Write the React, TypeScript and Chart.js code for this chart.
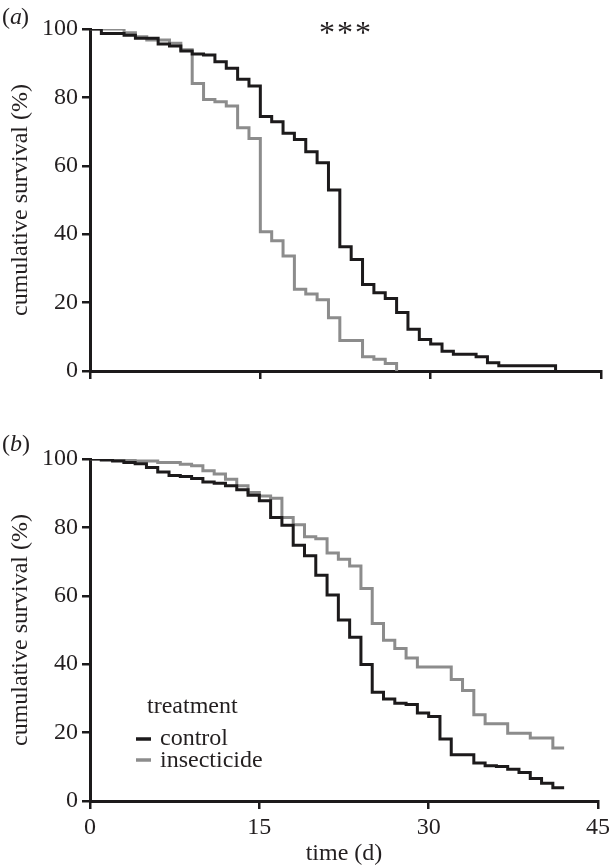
import React, { useEffect, useRef } from 'react';
import { Chart, registerables } from 'chart.js';

Chart.register(...registerables);

const FONT = '"Liberation Serif", "Times New Roman", Times, serif';
const INK = '#231f20';
const BLACK_LINE = '#1c1a1b';
const GREY_LINE = '#8c8c8c';

// x axis (time, days) and y axis (cumulative survival, %)
const xTicks = [0, 15, 30, 45];
const yTicks = [0, 20, 40, 60, 80, 100];

// Panel (a)
const aControlDays = [0, 1, 3, 4, 6, 7, 8, 9, 10, 11, 12, 13, 14, 15, 16, 17, 18, 19, 20, 21, 22, 23, 24, 25, 26, 27, 28, 29, 30, 31, 32, 34, 35, 36, 41];
const aControlSurv = [100, 98.7, 98.2, 97.3, 95.6, 95.0, 93.6, 92.7, 92.4, 90.4, 88.5, 85.3, 83.3, 74.4, 72.9, 69.5, 67.7, 64.1, 60.9, 52.9, 36.3, 32.6, 25.3, 22.9, 21.2, 17.1, 12.2, 9.2, 7.9, 5.8, 4.9, 4.2, 2.4, 1.5, 0];
const aInsectDays = [0, 3, 4, 5, 7, 8, 9, 10, 11, 12, 13, 14, 15, 16, 17, 18, 19, 20, 21, 22, 24, 25, 26, 27];
const aInsectSurv = [100, 98.9, 97.7, 96.8, 95.8, 93.9, 84.1, 79.4, 78.7, 77.5, 71.1, 68.0, 40.7, 38.1, 33.6, 23.9, 22.5, 20.8, 15.6, 8.9, 4.2, 3.4, 2.2, 0];

// Panel (b)
const bControlDays = [0, 1, 2, 3, 4, 5, 6, 7, 8, 9, 10, 11, 12, 13, 14, 15, 16, 17, 18, 19, 20, 21, 22, 23, 24, 25, 26, 27, 28, 29, 30, 31, 32, 34, 35, 36, 37, 38, 39, 40, 41, 42];
const bControlSurv = [100, 99.7, 99.4, 99.0, 98.6, 97.5, 96.2, 95.2, 94.9, 94.3, 93.3, 92.9, 92.2, 91.0, 89.4, 87.8, 82.9, 80.6, 74.8, 71.7, 66.0, 60.2, 52.9, 47.9, 39.9, 31.8, 29.8, 28.6, 28.2, 25.7, 24.7, 18.1, 13.5, 11.1, 10.3, 10.1, 9.3, 8.3, 6.6, 5.2, 3.9, 3.9];
const bInsectDays = [0, 2, 4, 6, 8, 9, 10, 11, 12, 13, 14, 15, 16, 17, 18, 19, 20, 21, 22, 23, 24, 25, 26, 27, 28, 29, 32, 33, 34, 35, 37, 39, 41, 42];
const bInsectSurv = [100, 99.7, 99.4, 99.0, 98.5, 98.0, 96.6, 95.6, 94.1, 92.2, 90.2, 89.2, 88.5, 82.9, 80.8, 77.3, 76.7, 72.5, 70.7, 68.7, 62.1, 51.9, 47.0, 44.6, 41.8, 39.2, 35.5, 32.3, 25.2, 22.6, 19.8, 18.4, 15.5, 15.5];

const seriesLabels = ['control', 'insecticide'];

const toPoints = (days: number[], surv: number[]) => days.map((d, i) => ({ x: d, y: surv[i] }));

const PLOT_BOTTOM = 371;
const Y_AXIS_W = 90;

function makeConfig(opts: {
  height: number;
  control: { x: number; y: number }[];
  insect: { x: number; y: number }[];
  showXLabels: boolean;
  draw: (ctx: CanvasRenderingContext2D, chart: any) => void;
}): any {
  const font = { family: FONT, size: 24 };
  return {
    type: 'line',
    data: {
      datasets: [
        {
          label: seriesLabels[0],
          data: opts.control,
          borderColor: BLACK_LINE,
          borderWidth: 3,
          pointRadius: 0,
          stepped: true,
          fill: false,
        },
        {
          label: seriesLabels[1],
          data: opts.insect,
          borderColor: GREY_LINE,
          borderWidth: 3,
          pointRadius: 0,
          stepped: true,
          fill: false,
        },
      ],
    },
    options: {
      responsive: false,
      animation: false,
      devicePixelRatio: 1,
      layout: { padding: { top: 29, right: 13, left: 0, bottom: 0 } },
      plugins: { legend: { display: false }, tooltip: { enabled: false } },
      scales: {
        x: {
          type: 'linear',
          min: xTicks[0],
          max: xTicks[xTicks.length - 1],
          afterBuildTicks: (s: any) => {
            s.ticks = xTicks.map((v) => ({ value: v }));
          },
          afterFit: (s: any) => {
            s.height = opts.height - PLOT_BOTTOM;
          },
          ticks: {
            display: opts.showXLabels,
            font,
            color: INK,
            padding: 4,
            maxRotation: 0,
          },
          grid: { drawOnChartArea: false, drawTicks: true, tickLength: 8, lineWidth: 2.5, color: BLACK_LINE },
          border: { display: true, width: 3, color: BLACK_LINE },
          title: opts.showXLabels
            ? { display: true, text: 'time (d)', font: { family: FONT, size: 24, lineHeight: 1 }, color: INK, padding: { top: 0, bottom: 1 } }
            : { display: false },
        },
        y: {
          type: 'linear',
          min: yTicks[0],
          max: yTicks[yTicks.length - 1],
          afterBuildTicks: (s: any) => {
            s.ticks = yTicks.map((v) => ({ value: v }));
          },
          afterFit: (s: any) => {
            s.width = Y_AXIS_W;
          },
          ticks: { font, color: INK, padding: 4 },
          grid: { drawOnChartArea: false, drawTicks: true, tickLength: 8, lineWidth: 2.5, color: BLACK_LINE },
          border: { display: true, width: 3, color: BLACK_LINE },
          title: {
            display: true,
            text: 'cumulative survival (%)',
            font: { family: FONT, size: 24, lineHeight: 1.2 },
            color: INK,
            padding: { top: 6, bottom: 0 },
          },
        },
      },
    },
    plugins: [
      {
        id: 'annotations',
        afterDraw(chart: any) {
          const ctx = chart.ctx as CanvasRenderingContext2D;
          ctx.save();
          opts.draw(ctx, chart);
          ctx.restore();
        },
      },
    ],
  };
}

function Panel(props: { top: number; height: number; config: any }) {
  const ref = useRef<HTMLCanvasElement | null>(null);
  useEffect(() => {
    if (!ref.current) return;
    const chart = new Chart(ref.current, props.config);
    let alive = true;
    const fonts = (document as any).fonts;
    if (fonts && fonts.load) {
      Promise.all([
        fonts.load('24px "Liberation Serif"'),
        fonts.load('italic 24px "Liberation Serif"'),
      ])
        .then(() => fonts.ready)
        .then(() => {
          if (alive) chart.update();
        })
        .catch(() => {});
    }
    return () => {
      alive = false;
      chart.destroy();
    };
  }, []);
  return (
    <canvas
      ref={ref}
      width={614}
      height={props.height}
      style={{ position: 'absolute', left: 0, top: props.top, width: 614, height: props.height, display: 'block' }}
    />
  );
}

export default function App() {
  const configA = makeConfig({
    height: 430,
    control: toPoints(aControlDays, aControlSurv),
    insect: toPoints(aInsectDays, aInsectSurv),
    showXLabels: false,
    draw: (ctx) => {
      ctx.fillStyle = INK;
      ctx.textBaseline = 'alphabetic';
      ctx.textAlign = 'left';
      ctx.font = `24px ${FONT}`;
      ctx.fillText('(', 2, 24);
      ctx.font = `italic 24px ${FONT}`;
      ctx.fillText('a', 10, 24);
      ctx.font = `24px ${FONT}`;
      ctx.fillText(')', 21, 24);
      ctx.font = `32px ${FONT}`;
      ctx.textAlign = 'center';
      ['*', '*', '*'].forEach((s, i) => ctx.fillText(s, 327 + i * 18, 43));
    },
  });

  const configB = makeConfig({
    height: 437,
    control: toPoints(bControlDays, bControlSurv),
    insect: toPoints(bInsectDays, bInsectSurv),
    showXLabels: true,
    draw: (ctx) => {
      ctx.fillStyle = INK;
      ctx.textBaseline = 'alphabetic';
      ctx.textAlign = 'left';
      ctx.font = `24px ${FONT}`;
      ctx.fillText('(', 2, 21);
      ctx.font = `italic 24px ${FONT}`;
      ctx.fillText('b', 10, 21);
      ctx.font = `24px ${FONT}`;
      ctx.fillText(')', 22, 21);
      // legend
      ctx.fillText('treatment', 147, 283);
      ctx.fillText(seriesLabels[0], 160, 315);
      ctx.fillText(seriesLabels[1], 160, 337);
      ctx.lineWidth = 3.5;
      ctx.strokeStyle = BLACK_LINE;
      ctx.beginPath();
      ctx.moveTo(136, 309);
      ctx.lineTo(151, 309);
      ctx.stroke();
      ctx.strokeStyle = GREY_LINE;
      ctx.beginPath();
      ctx.moveTo(136, 330);
      ctx.lineTo(151, 330);
      ctx.stroke();
    },
  });

  return (
    <div style={{ position: 'absolute', left: 0, top: 0, width: 614, height: 867, background: '#ffffff' }}>
      <span style={{ position: 'absolute', left: -9999, top: 0, fontFamily: FONT, fontSize: 24 }} aria-hidden="true">
        font warm-up <i>a</i>
      </span>
      <Panel top={0} height={430} config={configA} />
      <Panel top={430} height={437} config={configB} />
    </div>
  );
}
